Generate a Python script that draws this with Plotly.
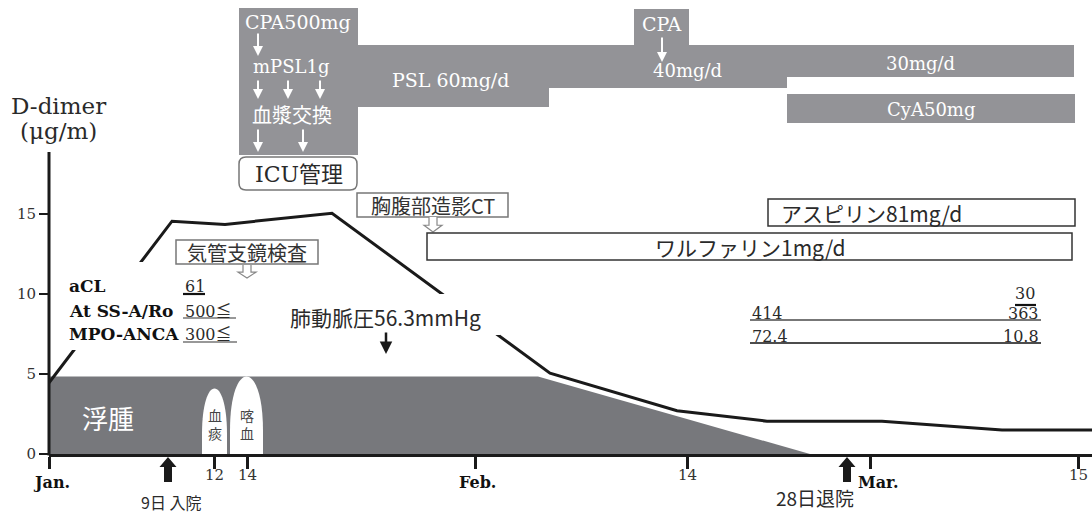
import plotly.graph_objects as go

# ---------------- data ----------------
# time axis in timeline units (drawing scale of the original figure, Jan 1 = 0)
tick_pos = [0, 165, 198, 426, 638, 821, 1029]
tick_text = ["Jan.", "12", "14", "Feb.", "14", "Mar.", "15"]
tick_bold = [True, False, False, True, False, True, False]
y_tick_vals = [0, 5, 10, 15]

# D-dimer (µg/mL)
ddimer_t = [0, 123, 176, 283, 501, 628, 718, 833, 953, 1043]
ddimer_v = [4.45, 14.55, 14.35, 15.05, 5.05, 2.7, 2.05, 2.05, 1.5, 1.5]

# edema (浮腫) area
edema_t = [0, 0, 489, 761]
edema_v = [0, 4.85, 4.85, 0]

# bleeding events
bleed_label = ["血<br>痰", "喀<br>血"]
bleed_t0 = [153, 181]
bleed_t1 = [178, 214]
bleed_h = [4.1, 4.85]

# treatments (top bars)
treat_label = ["", "PSL 60mg/d", "40mg/d", "CPA", "30mg/d", "CyA50mg"]
treat_t0 = [190, 308, 500, 585, 738, 738]
treat_t1 = [309, 500, 738, 640, 1025, 1026]

# anticoagulation
anticoag_label = ["アスピリン81mg/d", "ワルファリン1mg/d"]
anticoag_t0 = [719, 378]
anticoag_t1 = [1026, 1023]

# events
admit_t, admit_label = 119, "9日 入院"
discharge_t, discharge_label = 798, "28日退院"
exam_label = ["気管支鏡検査", "胸腹部造影CT"]
exam_t0 = [127, 308]
exam_t1 = [269, 459]

# labs
lab_names = ["aCL", "At SS-A/Ro", "MPO-ANCA"]
lab_first = ["61", "500≦", "300≦"]
lab_mid = ["", "414", "72.4"]
lab_last = ["30", "363", "10.8"]
pap_label = "肺動脈圧56.3mmHg"

# ---------------- layout helpers ----------------
W, H = 1092, 513
ML, MB = 49, 59
PLOT_H = H - MB
PX_PER_UNIT = 16.0
Y_TOP = PLOT_H / PX_PER_UNIT
X_END = W - ML


def vy(py):  # pixel row -> value units
    return (PLOT_H - py) / PX_PER_UNIT


def tx(px):  # pixel column -> timeline units
    return px - ML


def pxp(px):
    return (px - ML) / X_END


def pyp(py):
    return (PLOT_H - py) / PLOT_H


SERIF = "DejaVu Serif, Noto Sans CJK JP"
SANS = "Noto Sans CJK JP, Noto Sans"
TREAT = "#939397"
EDEMA = "#77787c"
INK = "#1a1a1a"
TXT = "#2a2a2a"

fig = go.Figure()
fig.add_trace(go.Scatter(x=edema_t, y=edema_v, fill="toself", fillcolor=EDEMA,
                         mode="lines", line=dict(width=0), hoverinfo="skip"))
fig.add_trace(go.Scatter(x=ddimer_t, y=ddimer_v, mode="lines",
                         line=dict(color=INK, width=3), hoverinfo="skip"))

shapes = []
ann = []


def text(s, px, py, size, color=TXT, family=SERIF, xanchor="center", **kw):
    if py > PLOT_H - 2:
        yref, yv = "paper", pyp(py)
    else:
        yref, yv = "y", vy(py)
    ann.append(dict(text=s, x=tx(px), y=yv, xref="x", yref=yref, showarrow=False,
                    xanchor=xanchor, yanchor="middle",
                    font=dict(family=family, size=size, color=color), **kw))


def arrow(px, py0, py1, color, width=2):
    ann.append(dict(x=tx(px), y=vy(py1), ax=tx(px), ay=vy(py0), xref="x", yref="y",
                    axref="x", ayref="y", text="", showarrow=True, arrowhead=2,
                    arrowsize=1, arrowwidth=width, arrowcolor=color))


# bleeding arches
for lab, a0, a1, h in zip(bleed_label, bleed_t0, bleed_t1, bleed_h):
    a = 0.3 * h
    c = a + (h - a) / 0.75
    shapes.append(dict(type="path", xref="x", yref="y", layer="above",
                       path=f"M {a0},0 L {a0},{a:.3f} C {a0},{c:.3f} {a1},{c:.3f} {a1},{a:.3f} L {a1},0 Z",
                       fillcolor="white", line=dict(width=0)))
    ann.append(dict(text=lab, x=(a0 + a1) / 2, y=vy(424), xref="x", yref="y", showarrow=False,
                    font=dict(family=SANS, size=14, color="#444")))

# treatment bars
bands = [(8, 155), (45, 107), (45, 88), (9, 46), (45, 77), (94, 123)]
for t0, t1, (top, bot) in zip(treat_t0, treat_t1, bands):
    shapes.append(dict(type="rect", xref="x", yref="y", layer="above", x0=t0, x1=t1,
                       y0=vy(bot), y1=vy(top), fillcolor=TREAT, line=dict(width=0)))
treat_pos = [None, (450, 80), (687, 70), (662, 24), (920, 63), (931, 109)]
treat_size = [0, 19, 18, 19, 18, 18]
for lab, pos, fs in zip(treat_label, treat_pos, treat_size):
    if pos:
        text(lab, pos[0], pos[1], fs, color="white")
text("CPA500mg", 298, 22, 19, color="white")
text("mPSL1g", 291, 66, 18, color="white")
text("血漿交換", 292, 114, 20, color="white", family=SANS)
arrow(258, 32, 56, "white")
for xx in (258, 288, 320):
    arrow(xx, 79, 99, "white")
for xx in (258, 303):
    arrow(xx, 128, 152, "white")
arrow(662, 36, 62, "white")

# ICU box (rounded)
x0, x1, y0, y1 = tx(239), tx(357), vy(190), vy(157)
rx, ry = 7, 7 / PX_PER_UNIT
shapes.append(dict(type="path", xref="x", yref="y", layer="above",
                   path=(f"M {x0+rx},{y0} L {x1-rx},{y0} Q {x1},{y0} {x1},{y0+ry} L {x1},{y1-ry} "
                         f"Q {x1},{y1} {x1-rx},{y1} L {x0+rx},{y1} Q {x0},{y1} {x0},{y1-ry} "
                         f"L {x0},{y0+ry} Q {x0},{y0} {x0+rx},{y0} Z"),
                   fillcolor="white", line=dict(color="#777", width=1.5)))
text("ICU管理", 299, 174, 22)

# axis label
text("D-dimer", 58, 106, 23)
text("(μg/m)", 58, 131, 23)

# masks behind labels
for (a, b, c, d) in [(62, 262, 242, 350), (278, 294, 500, 335)]:
    shapes.append(dict(type="rect", xref="x", yref="y", layer="above", x0=tx(a), x1=tx(c),
                       y0=vy(d), y1=vy(b), fillcolor="white", line=dict(width=0)))

# exam boxes with hollow arrows
exam_rows = [(240, 264), (193, 217)]
exam_arrow = [(247, 265, 278), (433, 217, 232)]
for lab, t0, t1, (top, bot), (ax_, a_top, a_tip) in zip(exam_label, exam_t0, exam_t1, exam_rows, exam_arrow):
    shapes.append(dict(type="rect", xref="x", yref="y", layer="above", x0=t0, x1=t1,
                       y0=vy(bot), y1=vy(top), fillcolor="white", line=dict(color="#777", width=1.5)))
    ann.append(dict(text=lab, x=(t0 + t1) / 2, y=vy((top + bot) / 2), xref="x", yref="y",
                    showarrow=False, font=dict(family=SANS, size=20, color="#333")))
    cx = tx(ax_)
    hb = a_top + (a_tip - a_top) * 0.55
    pts = [(cx - 4, a_top), (cx - 4, hb), (cx - 9, hb), (cx, a_tip), (cx + 9, hb), (cx + 4, hb), (cx + 4, a_top)]
    path = "M " + " L ".join(f"{p[0]},{vy(p[1]):.4f}" for p in pts)
    shapes.append(dict(type="path", xref="x", yref="y", layer="above", path=path,
                       fillcolor="white", line=dict(color="#888", width=1.2)))

# anticoagulation boxes
anti_rows = [(199, 226), (233, 260)]
for lab, t0, t1, (top, bot), i in zip(anticoag_label, anticoag_t0, anticoag_t1, anti_rows, range(2)):
    shapes.append(dict(type="rect", xref="x", yref="y", layer="above", x0=t0, x1=t1,
                       y0=vy(bot), y1=vy(top), fillcolor="white", line=dict(color="#333", width=1.5)))
    if i == 0:
        text(lab, 779, (top + bot) / 2, 21, xanchor="left", family=SANS)
    else:
        text(lab, 750, (top + bot) / 2, 21, family=SANS)

# labs
lab_rows = [286, 311, 334]
for name, v0, vm, v1, ry_ in zip(lab_names, lab_first, lab_mid, lab_last, lab_rows):
    text(f"<b>{name}</b>", 67, ry_, 17, color="#111", xanchor="left")
    text(v0, 183, ry_, 16, xanchor="left")
    text(v1, 1041 if vm else 1037, ry_ + (7 if not vm else 2), 16, xanchor="right")
    if vm:
        text(vm, 750, ry_ + 2, 16, xanchor="left")
# underlines
ul = [(183, 205, 294, 2.2, "#111"), (183, 236, 318, 1.2, "#333"), (183, 237, 342, 1.2, "#333"),
      (1015, 1036, 305, 2.2, "#111"), (750, 1041, 320, 1.8, "#777"), (750, 1041, 343, 1.5, "#111")]
for a, b, yy, w, col in ul:
    shapes.append(dict(type="line", xref="x", yref="y", layer="above", x0=tx(a), x1=tx(b),
                       y0=vy(yy), y1=vy(yy), line=dict(color=col, width=w)))

text(pap_label, 385, 317, 21, family=SANS)
arrow(386, 331, 354, INK, width=2.5)

# edema label
text("浮腫", 108, 417, 26, color="white", family=SANS)

# y axis line
shapes.append(dict(type="line", xref="paper", yref="paper", x0=0, x1=0, y0=pyp(455.5), y1=pyp(152),
                   line=dict(color=INK, width=3)))

# admission / discharge arrows
for t in (admit_t, discharge_t):
    cx = t + ML
    pts = [(cx, 457), (cx + 8.5, 467), (cx + 4, 467), (cx + 4, 482), (cx - 4, 482), (cx - 4, 467), (cx - 8.5, 467)]
    path = "M " + " L ".join(f"{pxp(p[0]):.5f},{pyp(p[1]):.5f}" for p in pts) + " Z"
    shapes.append(dict(type="path", xref="paper", yref="paper", path=path, fillcolor=INK,
                       line=dict(width=0)))
text(admit_label, admit_t + ML + 3, 502, 16, family=SANS)
text(discharge_label, discharge_t + ML - 32, 497, 19, family=SANS)

# x tick labels
for p, lab, b in zip(tick_pos, tick_text, tick_bold):
    if b:
        shift = 8 if lab == "Mar." else 2
        text(f"<b>{lab}</b>", p + ML + shift, 482, 16, color="#111")
    else:
        text(lab, p + ML, 475, 15, color="#333")

fig.update_layout(
    width=W, height=H, margin=dict(l=ML, r=0, t=0, b=MB),
    paper_bgcolor="white", plot_bgcolor="white", showlegend=False,
    shapes=shapes, annotations=ann,
    xaxis=dict(range=[0, X_END], showline=True, linewidth=3, linecolor=INK,
               ticks="outside", ticklen=12, tickwidth=3, tickcolor=INK,
               tickvals=tick_pos, showticklabels=False, showgrid=False, zeroline=False),
    yaxis=dict(range=[0, Y_TOP], showline=False, ticks="outside", ticklen=9, tickwidth=2,
               tickcolor=INK, tickvals=y_tick_vals, showgrid=False, zeroline=False,
               tickfont=dict(family=SERIF, size=15, color="#333")),
)

fig.write_html("out.html", config={"displayModeBar": False},
               post_script="document.body.style.margin='0';document.body.style.overflow='hidden';")
